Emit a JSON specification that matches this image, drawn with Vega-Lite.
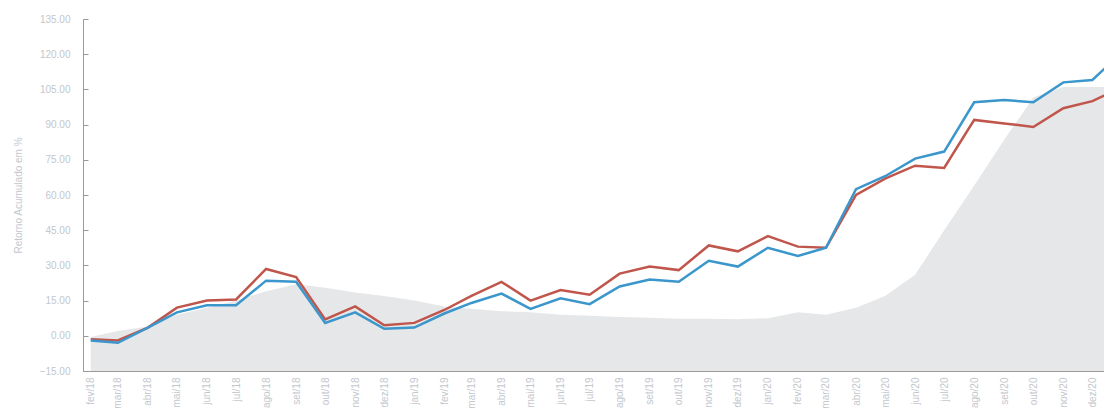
{
  "$schema": "https://vega.github.io/schema/vega-lite/v6.json",
  "width": 1021,
  "height": 352,
  "autosize": {"type": "none"},
  "padding": {"left": 83, "top": 19, "right": 0, "bottom": 40},
  "background": "white",
  "config": {
    "view": {"stroke": null},
    "axis": {
      "grid": false,
      "domainColor": "#9a9a9a",
      "tickColor": "#9a9a9a",
      "labelColor": "#c3c7cc",
      "labelFont": "Liberation Sans",
      "labelFontSize": 10,
      "titleColor": "#c3c7cc",
      "titleFont": "Liberation Sans",
      "titleFontSize": 10,
      "titleFontWeight": "normal",
      "labelOverlap": false
    },
    "axisY": {"labelOverlap": false, "labelFlush": false}
  },
  "data": {
    "values": [
      {"date": "2018-02-01", "fundo": -2, "indice": -1.5, "fundoArea": -0.5},
      {"date": "2018-03-01", "fundo": -3, "indice": -2, "fundoArea": 2},
      {"date": "2018-04-01", "fundo": 3.5, "indice": 3.5, "fundoArea": 4},
      {"date": "2018-05-01", "fundo": 10, "indice": 12, "fundoArea": 9},
      {"date": "2018-06-01", "fundo": 13, "indice": 15, "fundoArea": 12},
      {"date": "2018-07-01", "fundo": 13, "indice": 15.5, "fundoArea": 15},
      {"date": "2018-08-01", "fundo": 23.5, "indice": 28.5, "fundoArea": 19},
      {"date": "2018-09-01", "fundo": 23, "indice": 25, "fundoArea": 22},
      {"date": "2018-10-01", "fundo": 5.5, "indice": 7, "fundoArea": 20.5},
      {"date": "2018-11-01", "fundo": 10, "indice": 12.5, "fundoArea": 18.5},
      {"date": "2018-12-01", "fundo": 3, "indice": 4.5, "fundoArea": 17},
      {"date": "2019-01-01", "fundo": 3.5, "indice": 5.5, "fundoArea": 15},
      {"date": "2019-02-01", "fundo": 9.5, "indice": 11, "fundoArea": 12.5},
      {"date": "2019-03-01", "fundo": 14, "indice": 17, "fundoArea": 11.5},
      {"date": "2019-04-01", "fundo": 18, "indice": 23, "fundoArea": 10.5},
      {"date": "2019-05-01", "fundo": 11.5, "indice": 15, "fundoArea": 10},
      {"date": "2019-06-01", "fundo": 16, "indice": 19.5, "fundoArea": 9},
      {"date": "2019-07-01", "fundo": 13.5, "indice": 17.5, "fundoArea": 8.5},
      {"date": "2019-08-01", "fundo": 21, "indice": 26.5, "fundoArea": 8},
      {"date": "2019-09-01", "fundo": 24, "indice": 29.5, "fundoArea": 7.7},
      {"date": "2019-10-01", "fundo": 23, "indice": 28, "fundoArea": 7.3},
      {"date": "2019-11-01", "fundo": 32, "indice": 38.5, "fundoArea": 7.3},
      {"date": "2019-12-01", "fundo": 29.5, "indice": 36, "fundoArea": 7},
      {"date": "2020-01-01", "fundo": 37.5, "indice": 42.5, "fundoArea": 7.5},
      {"date": "2020-02-01", "fundo": 34, "indice": 38, "fundoArea": 10},
      {"date": "2020-03-01", "fundo": 37.5, "indice": 37.5, "fundoArea": 9},
      {"date": "2020-04-01", "fundo": 62.5, "indice": 60, "fundoArea": 12},
      {"date": "2020-05-01", "fundo": 68, "indice": 67, "fundoArea": 17},
      {"date": "2020-06-01", "fundo": 75.5, "indice": 72.5, "fundoArea": 26},
      {"date": "2020-07-01", "fundo": 78.5, "indice": 71.5, "fundoArea": 45},
      {"date": "2020-08-01", "fundo": 99.5, "indice": 92, "fundoArea": 64},
      {"date": "2020-09-01", "fundo": 100.5, "indice": 90.5, "fundoArea": 83.5},
      {"date": "2020-10-01", "fundo": 99.5, "indice": 89, "fundoArea": 101.5},
      {"date": "2020-11-01", "fundo": 108, "indice": 97, "fundoArea": 106},
      {"date": "2020-12-01", "fundo": 109, "indice": 100, "fundoArea": 106},
      {"date": "2021-01-01", "fundo": 121, "indice": 106, "fundoArea": 106}
    ]
  },
  "encoding": {
    "x": {
      "field": "date",
      "type": "temporal",
      "scale": {"type": "utc", "domain": ["2018-01-24", "2020-12-13"], "nice": false},
      "axis": {
        "title": null,
        "tickCount": {"interval": "month", "step": 1},
        "labelAngle": -90,
        "labelExpr": "['jan','fev','mar','abr','mai','jun','jul','ago','set','out','nov','dez'][utcmonth(datum.value)] + '/' + utcFormat(datum.value, '%y')",
        "tickSize": -5,
        "labelPadding": 11,
        "labelOverlap": false
      }
    }
  },
  "layer": [
    {
      "mark": {"type": "area", "color": "#e5e7e9", "opacity": 1, "clip": true},
      "encoding": {
        "y": {
          "field": "fundoArea",
          "type": "quantitative",
          "scale": {"domain": [-15, 135], "nice": false, "zero": false},
          "axis": {
            "title": "Retorno Acumulado em %",
            "values": [-15, 0, 15, 30, 45, 60, 75, 90, 105, 120, 135],
            "format": ".2f",
            "tickSize": -5,
            "labelPadding": 18,
            "titlePadding": 16,
            "labelOverlap": false
          }
        },
        "y2": {"datum": -15}
      }
    },
    {
      "mark": {"type": "line", "color": "#c0564b", "strokeWidth": 2.5, "clip": true},
      "encoding": {"y": {"field": "indice", "type": "quantitative", "axis": {"labelOverlap": false, "values": [-15, 0, 15, 30, 45, 60, 75, 90, 105, 120, 135]}}}
    },
    {
      "mark": {"type": "line", "color": "#3a96cb", "strokeWidth": 2.5, "clip": true},
      "encoding": {"y": {"field": "fundo", "type": "quantitative", "axis": {"labelOverlap": false, "values": [-15, 0, 15, 30, 45, 60, 75, 90, 105, 120, 135]}}}
    }
  ]
}
